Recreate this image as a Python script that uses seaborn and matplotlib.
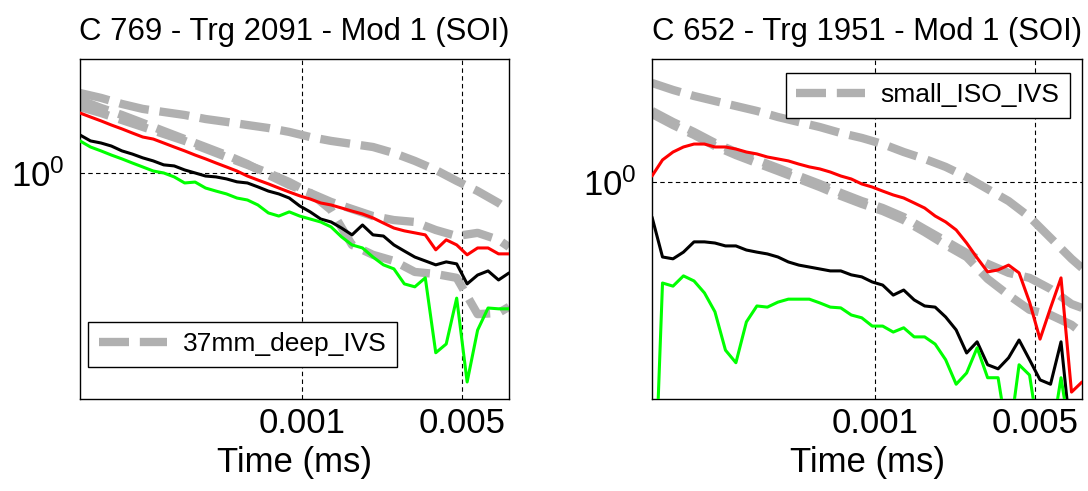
import matplotlib
matplotlib.use("Agg")
import matplotlib.pyplot as plt
import seaborn as sns
from matplotlib.ticker import NullLocator, NullFormatter

sns.set_theme(style="white")
plt.rcParams["font.family"] = ["Liberation Sans", "DejaVu Sans"]
plt.rcParams["text.color"] = "black"
plt.rcParams["axes.labelcolor"] = "black"
plt.rcParams["xtick.color"] = "black"
plt.rcParams["ytick.color"] = "black"

# time bins (ms)
time_ms = [1.070e-4, 1.189e-4, 1.321e-4, 1.467e-4, 1.631e-4, 1.811e-4, 2.012e-4,
           2.236e-4, 2.483e-4, 2.759e-4, 3.065e-4, 3.405e-4, 3.783e-4, 4.202e-4,
           4.669e-4, 5.187e-4, 5.762e-4, 6.401e-4, 7.112e-4, 7.901e-4, 8.778e-4,
           9.752e-4, 1.083e-3, 1.204e-3, 1.337e-3, 1.485e-3, 1.650e-3, 1.833e-3,
           2.037e-3, 2.263e-3, 2.514e-3, 2.793e-3, 3.103e-3, 3.447e-3, 3.830e-3,
           4.255e-3, 4.727e-3, 5.251e-3, 5.834e-3, 6.481e-3, 7.201e-3, 8.000e-3]
time_ms_coarse = [1.070e-4, 1.321e-4, 1.631e-4, 2.012e-4, 2.483e-4, 3.065e-4,
                  3.783e-4, 4.669e-4, 5.762e-4, 7.112e-4, 8.778e-4, 1.083e-3,
                  1.337e-3, 1.650e-3, 2.037e-3, 2.514e-3, 3.103e-3, 3.830e-3,
                  4.727e-3, 5.834e-3, 7.201e-3, 8.000e-3]

# left panel: C 769
left_red = [1.318, 1.294, 1.271, 1.247, 1.225, 1.202, 1.180, 1.169, 1.148, 1.127,
            1.107, 1.086, 1.067, 1.047, 1.028, 1.009, 0.986, 0.968, 0.951, 0.933,
            0.916, 0.900, 0.887, 0.871, 0.863, 0.851, 0.839, 0.828, 0.813, 0.794,
            0.776, 0.766, 0.759, 0.752, 0.702, 0.735, 0.718, 0.686, 0.708, 0.708,
            0.689, 0.689]
left_black = [1.191, 1.159, 1.148, 1.132, 1.107, 1.091, 1.072, 1.057, 1.038, 1.033,
              1.014, 1.000, 0.986, 0.982, 0.973, 0.960, 0.955, 0.938, 0.920, 0.908,
              0.891, 0.859, 0.836, 0.809, 0.798, 0.776, 0.752, 0.787, 0.752, 0.748,
              0.718, 0.698, 0.679, 0.667, 0.655, 0.664, 0.658, 0.600, 0.625, 0.637,
              0.611, 0.631]
left_green = [1.159, 1.127, 1.107, 1.086, 1.067, 1.047, 1.028, 1.009, 1.000, 0.982,
              0.955, 0.959, 0.933, 0.920, 0.908, 0.891, 0.883, 0.863, 0.832, 0.820,
              0.836, 0.820, 0.809, 0.798, 0.780, 0.745, 0.718, 0.708, 0.679, 0.655,
              0.643, 0.600, 0.592, 0.617, 0.437, 0.455, 0.562, 0.382, 0.485, 0.537,
              0.535, 0.535]
left_gray_a = [1.445, 1.413, 1.374, 1.343, 1.324, 1.306, 1.282, 1.265, 1.247, 1.230,
               1.208, 1.180, 1.159, 1.143, 1.127, 1.096, 1.057, 1.014, 0.964, 0.920,
               0.871, 0.843]
left_gray_b = [1.400, 1.349, 1.306, 1.259, 1.213, 1.169, 1.127, 1.086, 1.042, 0.991,
               0.946, 0.912, 0.875, 0.847, 0.820, 0.805, 0.798, 0.769, 0.748, 0.759,
               0.735, 0.711]
left_gray_c = [1.355, 1.318, 1.276, 1.236, 1.197, 1.159, 1.117, 1.076, 1.038, 1.000,
               0.959, 0.912, 0.843, 0.718, 0.686, 0.667, 0.634, 0.628, 0.617, 0.522,
               0.525, 0.540]

# right panel: C 652
right_red = [1.028, 1.107, 1.148, 1.175, 1.191, 1.191, 1.175, 1.175, 1.164, 1.148,
             1.138, 1.122, 1.112, 1.102, 1.086, 1.072, 1.062, 1.047, 1.028, 1.014,
             0.991, 0.977, 0.959, 0.942, 0.929, 0.908, 0.887, 0.855, 0.832, 0.802,
             0.755, 0.705, 0.661, 0.667, 0.682, 0.658, 0.575, 0.485, 0.560, 0.643,
             0.380, 0.398]
right_black = [0.851, 0.708, 0.702, 0.724, 0.759, 0.759, 0.755, 0.745, 0.745, 0.731,
               0.724, 0.718, 0.708, 0.692, 0.682, 0.676, 0.670, 0.664, 0.664, 0.652,
               0.646, 0.631, 0.622, 0.594, 0.608, 0.581, 0.565, 0.562, 0.537, 0.506,
               0.455, 0.479, 0.431, 0.423, 0.445, 0.483, 0.441, 0.402, 0.394, 0.479,
               0.300, 0.300]
right_green = [0.170, 0.628, 0.619, 0.649, 0.634, 0.600, 0.550, 0.461, 0.435, 0.525,
               0.565, 0.562, 0.575, 0.583, 0.583, 0.583, 0.573, 0.562, 0.560, 0.542,
               0.535, 0.515, 0.515, 0.501, 0.511, 0.490, 0.490, 0.474, 0.441, 0.394,
               0.415, 0.466, 0.406, 0.406, 0.300, 0.431, 0.411, 0.300, 0.300, 0.406,
               0.300, 0.300]
right_gray_a = [1.578, 1.528, 1.486, 1.452, 1.419, 1.387, 1.349, 1.318, 1.288, 1.253,
                1.225, 1.191, 1.148, 1.112, 1.072, 1.023, 0.968, 0.916, 0.851, 0.773,
                0.702, 0.673]
right_gray_b = [1.387, 1.318, 1.259, 1.197, 1.148, 1.107, 1.067, 1.028, 0.991, 0.951,
                0.916, 0.887, 0.851, 0.805, 0.762, 0.721, 0.686, 0.658, 0.643, 0.611,
                0.570, 0.560]
right_gray_c = [1.368, 1.300, 1.242, 1.180, 1.132, 1.091, 1.052, 1.014, 0.977, 0.938,
                0.904, 0.875, 0.839, 0.794, 0.748, 0.708, 0.640, 0.594, 0.555, 0.542,
                0.518, 0.499]

panels = [
    dict(title="C 769 - Trg 2091 - Mod 1 (SOI)", label="37mm_deep_IVS",
         gray=[left_gray_a, left_gray_b, left_gray_c],
         red=left_red, black=left_black, green=left_green,
         ylim=(0.3532, 1.690), rect=[80 / 1088, 92 / 491, 429 / 1088, 340 / 491],
         leg=dict(loc="lower left", bbox_to_anchor=(0.019, 0.094))),
    dict(title="C 652 - Trg 1951 - Mod 1 (SOI)", label="small_ISO_IVS",
         gray=[right_gray_a, right_gray_b, right_gray_c],
         red=right_red, black=right_black, green=right_green,
         ylim=(0.3681, 1.762), rect=[652 / 1088, 92 / 491, 430 / 1088, 340 / 491],
         leg=dict(loc="upper right", bbox_to_anchor=(0.972, 0.959))),
]

gray_col = "#b0b0b0"
fig = plt.figure(figsize=(10.88, 4.91), dpi=100)

for p in panels:
    ax = fig.add_axes(p["rect"])
    ax.set_xscale("log")
    ax.set_yscale("log")

    for k, g in enumerate(p["gray"]):
        sns.lineplot(x=time_ms_coarse, y=g, ax=ax, color=gray_col, lw=6,
                     linestyle=(0, (3.6, 1.3)), label=p["label"] if k == 0 else None,
                     zorder=2)
    sns.lineplot(x=time_ms, y=p["red"], ax=ax, color="#ff0000", lw=2.2, zorder=3)
    sns.lineplot(x=time_ms, y=p["black"], ax=ax, color="black", lw=2.2, zorder=3)
    sns.lineplot(x=time_ms, y=p["green"], ax=ax, color="#00ff00", lw=2.2, zorder=3)

    ax.set_xlim(1.07e-4, 8.0e-3)
    ax.set_ylim(*p["ylim"])
    ax.set_xticks([0.001, 0.005])
    ax.set_xticklabels(["0.001", "0.005"])
    ax.set_yticks([1.0])
    ax.set_yticklabels([r"$\mathdefault{10^{0}}$"])
    for axis in (ax.xaxis, ax.yaxis):
        axis.set_minor_locator(NullLocator())
        axis.set_minor_formatter(NullFormatter())
    ax.tick_params(axis="both", direction="in", length=4, width=0.8,
                   colors="black", labelsize=25)
    ax.tick_params(axis="x", pad=6)
    ax.tick_params(axis="y", pad=11)

    ax.grid(True, which="major", color="black", lw=0.8, linestyle=(0, (4, 3)))
    for s in ax.spines.values():
        s.set_color("black")
        s.set_linewidth(1.0)

    ax.set_title(p["title"], fontsize=22.4, pad=14, color="black")
    ax.set_xlabel("Time (ms)", fontsize=25, labelpad=4, color="black")
    ax.set_ylabel("")

    handles, labels = ax.get_legend_handles_labels()
    leg = ax.legend(handles[:1], labels[:1], fontsize=19, handlelength=2.6,
                    handletextpad=0.6, borderpad=0.4, borderaxespad=0,
                    fancybox=False, framealpha=1, edgecolor="black", **p["leg"])
    leg.get_frame().set_linewidth(1.0)

fig.savefig("out.png", dpi=100)
